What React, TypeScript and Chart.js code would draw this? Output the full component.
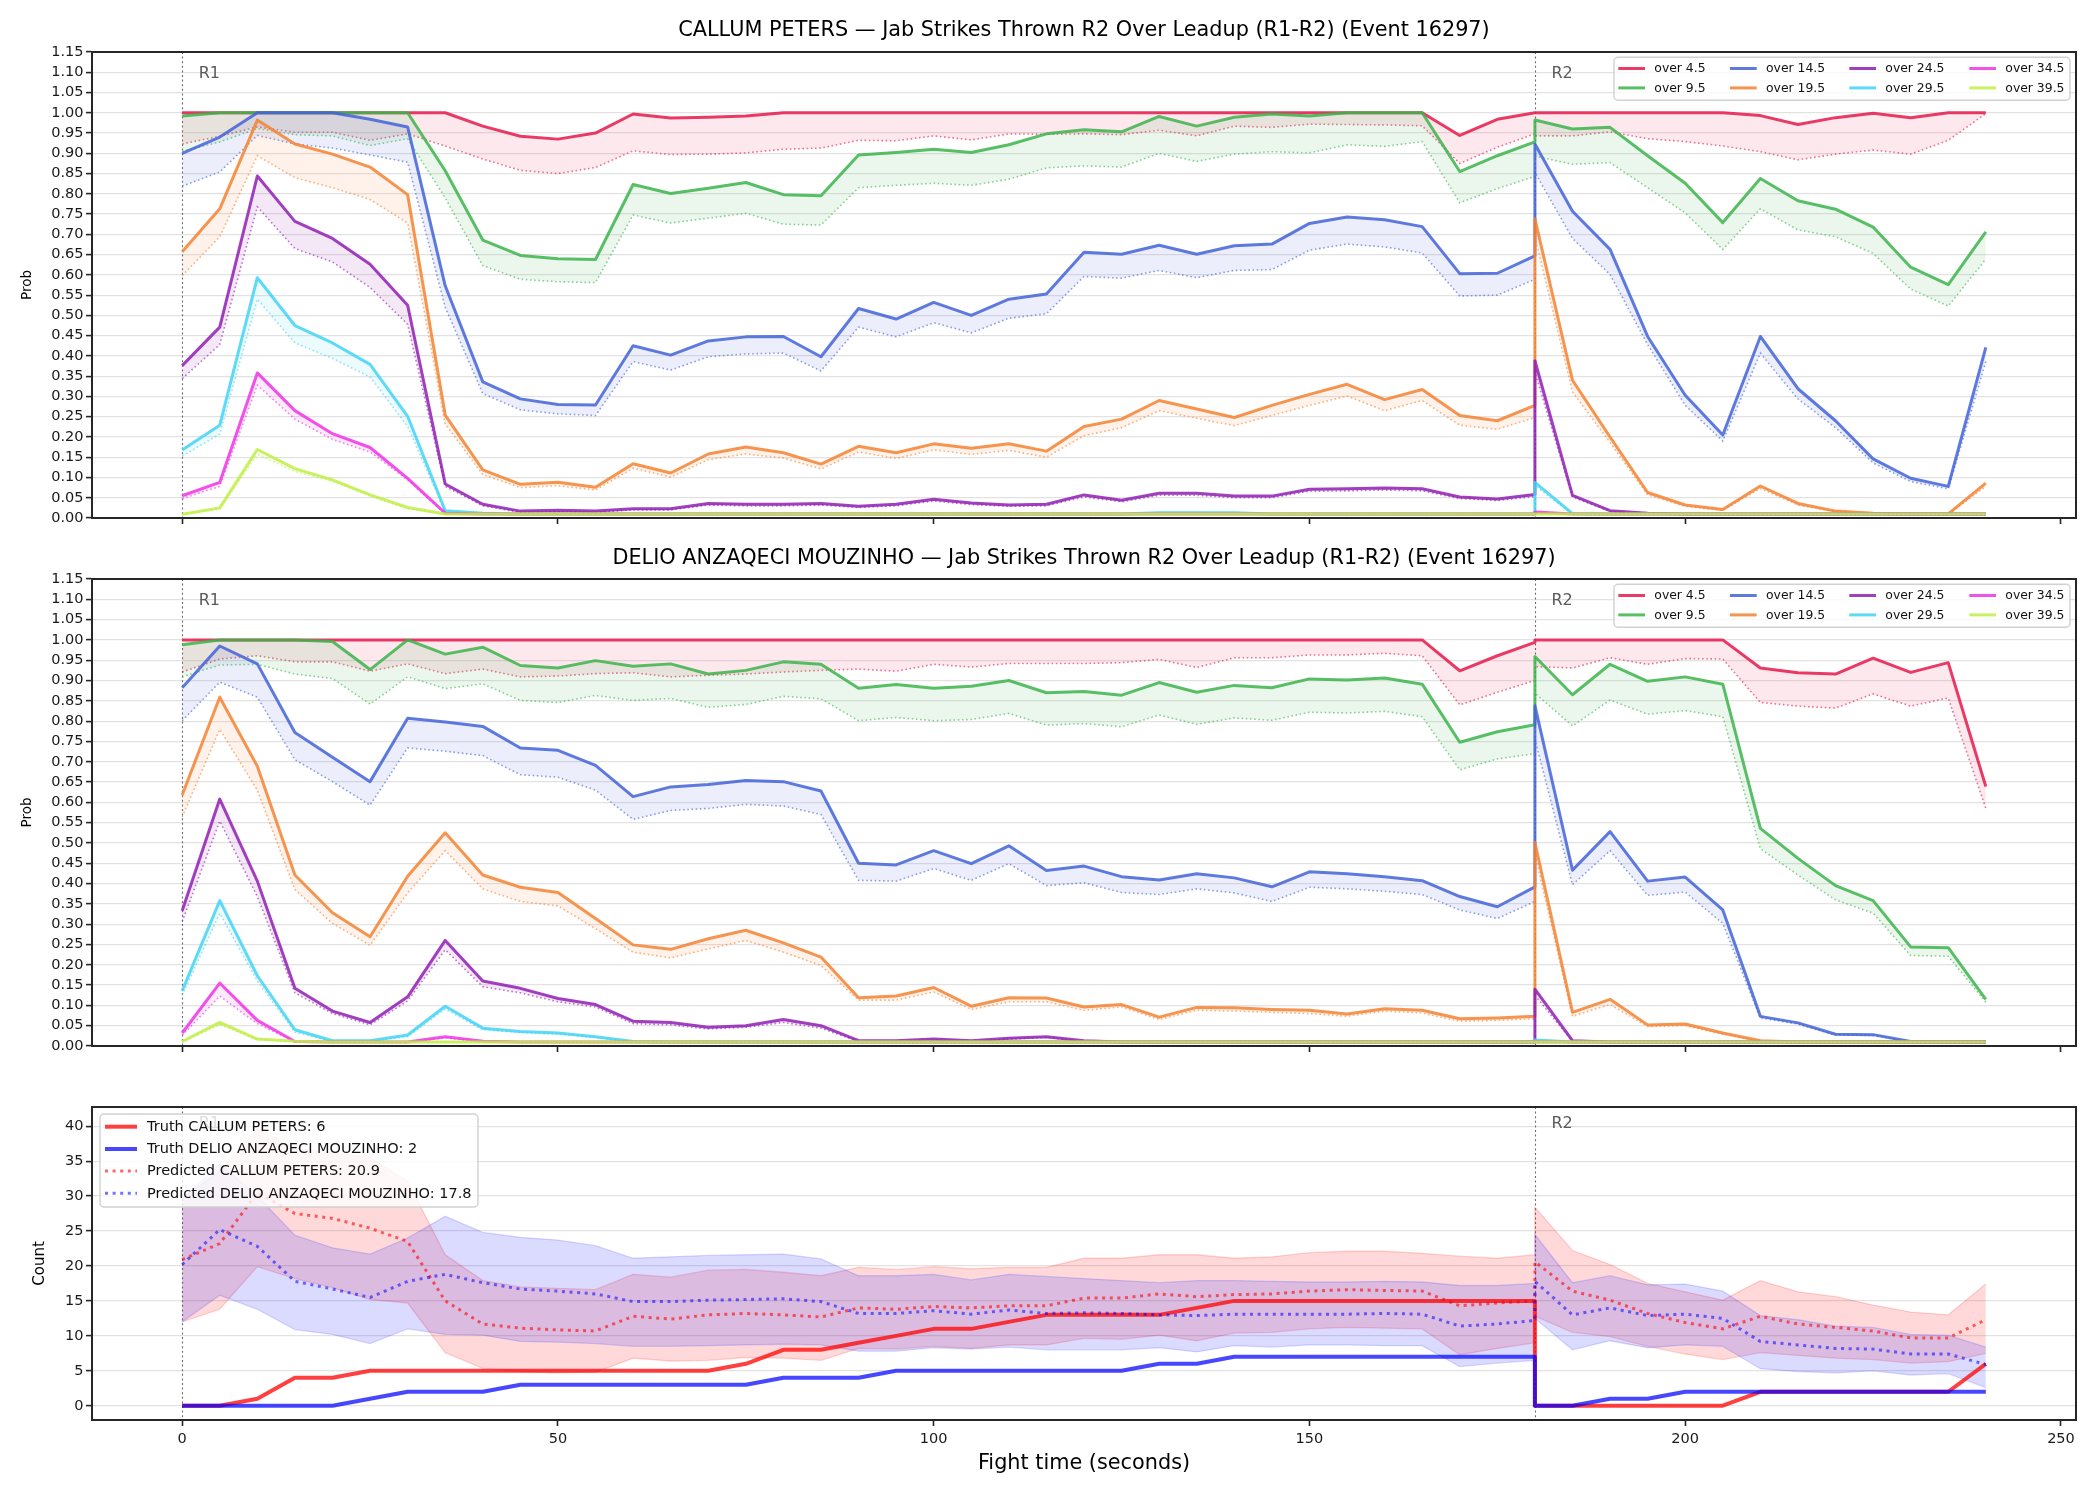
import React, { useEffect, useRef } from 'react';
import { Chart, registerables } from 'chart.js';

Chart.register(...registerables);

const FAMILY = '"DejaVu Sans", Verdana, sans-serif';

// ---------------- shared axis data ----------------
// R1 samples (0..180) followed by R2 samples (180..240)
const TIMES = [
  0, 5, 10, 15, 20, 25, 30, 35, 40, 45,
  50, 55, 60, 65, 70, 75, 80, 85, 90, 95,
  100, 105, 110, 115, 120, 125, 130, 135, 140, 145,
  150, 155, 160, 165, 170, 175, 180,
  180, 185, 190, 195, 200, 205, 210, 215, 220, 225, 230, 235, 240,
];
const X_TICKS = [0, 50, 100, 150, 200, 250];
const PROB_TICKS = [0, 0.05, 0.1, 0.15, 0.2, 0.25, 0.3, 0.35, 0.4, 0.45, 0.5, 0.55, 0.6, 0.65, 0.7, 0.75, 0.8, 0.85, 0.9, 0.95, 1.0, 1.05, 1.1, 1.15];
const COUNT_TICKS = [0, 5, 10, 15, 20, 25, 30, 35, 40];
const ROUND_STARTS = [0, 180];
const ROUND_LABELS = ['R1', 'R2'];

const OVER_LABELS = ['over 4.5', 'over 9.5', 'over 14.5', 'over 19.5', 'over 24.5', 'over 29.5', 'over 34.5', 'over 39.5'];
const SERIES_COLORS = ['#e6194b', '#3cb44b', '#4363d8', '#f58231', '#911eb4', '#42d4f4', '#f032e6', '#bfef45'];

const TITLE_CALLUM = 'CALLUM PETERS \u2014 Jab Strikes Thrown R2 Over Leadup (R1-R2) (Event 16297)';
const TITLE_DELIO = 'DELIO ANZAQECI MOUZINHO \u2014 Jab Strikes Thrown R2 Over Leadup (R1-R2) (Event 16297)';
const COUNT_LEGEND = ['Truth CALLUM PETERS: 6', 'Truth DELIO ANZAQECI MOUZINHO: 2', 'Predicted CALLUM PETERS: 20.9', 'Predicted DELIO ANZAQECI MOUZINHO: 17.8'];

// ---------------- CALLUM PETERS probabilities ----------------
const CALLUM_O4_P = [
  1, 1, 1, 1, 1, 1, 1, 1, 0.967, 0.942,
  0.935, 0.95, 0.997, 0.987, 0.989, 0.992, 1, 1, 1, 1,
  1, 1, 1, 1, 1, 1, 1, 1, 1, 1,
  1, 1, 1, 1, 0.944, 0.984, 1,
  1, 1, 1, 1, 1, 1, 0.993, 0.971, 0.988, 0.999, 0.988, 1, 1];
const CALLUM_O4_LO = [
  0.923, 0.942, 0.965, 0.952, 0.952, 0.932, 0.948, 0.918, 0.886, 0.858,
  0.85, 0.865, 0.906, 0.897, 0.898, 0.901, 0.91, 0.913, 0.932, 0.931,
  0.943, 0.933, 0.948, 0.947, 0.948, 0.946, 0.957, 0.943, 0.967, 0.964,
  0.972, 0.971, 0.97, 0.968, 0.875, 0.915, 0.948,
  0.943, 0.943, 0.953, 0.936, 0.929, 0.918, 0.904, 0.884, 0.898, 0.908, 0.898, 0.932, 0.998];
const CALLUM_O9_P = [
  0.992, 1, 1, 1, 1, 1, 1, 0.857, 0.686, 0.648,
  0.64, 0.638, 0.823, 0.801, 0.814, 0.828, 0.798, 0.795, 0.896, 0.902,
  0.91, 0.902, 0.921, 0.948, 0.958, 0.953, 0.991, 0.967, 0.989, 0.997,
  0.992, 1, 1, 1, 0.855, 0.894, 0.928,
  0.982, 0.96, 0.964, 0.894, 0.826, 0.729, 0.838, 0.783, 0.762, 0.718, 0.619, 0.576, 0.706];
const CALLUM_O9_LO = [
  0.905, 0.928, 0.961, 0.946, 0.943, 0.919, 0.936, 0.79, 0.623, 0.589,
  0.583, 0.581, 0.748, 0.728, 0.74, 0.752, 0.725, 0.723, 0.815, 0.821,
  0.826, 0.821, 0.836, 0.864, 0.869, 0.866, 0.9, 0.88, 0.898, 0.904,
  0.901, 0.921, 0.917, 0.929, 0.778, 0.813, 0.843,
  0.893, 0.873, 0.877, 0.815, 0.753, 0.663, 0.763, 0.711, 0.694, 0.653, 0.565, 0.523, 0.639];
const CALLUM_O14_P = [
  0.9, 0.94, 1, 1, 1, 0.984, 0.965, 0.573, 0.336, 0.294,
  0.28, 0.279, 0.425, 0.402, 0.437, 0.447, 0.448, 0.398, 0.517, 0.491,
  0.532, 0.5, 0.54, 0.553, 0.656, 0.651, 0.673, 0.651, 0.672, 0.676,
  0.727, 0.743, 0.736, 0.719, 0.603, 0.604, 0.647,
  0.923, 0.757, 0.663, 0.448, 0.303, 0.205, 0.448, 0.319, 0.24, 0.146, 0.098, 0.078, 0.421];
const CALLUM_O14_LO = [
  0.819, 0.854, 0.944, 0.923, 0.913, 0.896, 0.878, 0.52, 0.307, 0.267,
  0.257, 0.253, 0.386, 0.365, 0.398, 0.405, 0.407, 0.363, 0.471, 0.447,
  0.482, 0.457, 0.493, 0.504, 0.596, 0.592, 0.611, 0.593, 0.611, 0.613,
  0.661, 0.676, 0.669, 0.654, 0.548, 0.55, 0.589,
  0.853, 0.69, 0.601, 0.428, 0.278, 0.19, 0.407, 0.294, 0.223, 0.136, 0.09, 0.072, 0.386];
const CALLUM_O19_P = [
  0.657, 0.763, 0.982, 0.923, 0.898, 0.866, 0.798, 0.254, 0.119, 0.083,
  0.088, 0.076, 0.134, 0.111, 0.158, 0.175, 0.161, 0.133, 0.177, 0.161,
  0.183, 0.172, 0.183, 0.165, 0.226, 0.244, 0.29, 0.269, 0.248, 0.278,
  0.305, 0.33, 0.292, 0.317, 0.253, 0.24, 0.278,
  0.738, 0.34, 0.2, 0.063, 0.032, 0.021, 0.079, 0.036, 0.017, 0.012, 0.01, 0.01, 0.086];
const CALLUM_O19_LO = [
  0.598, 0.694, 0.894, 0.84, 0.815, 0.786, 0.728, 0.232, 0.107, 0.075,
  0.08, 0.069, 0.123, 0.101, 0.144, 0.158, 0.148, 0.121, 0.163, 0.147,
  0.168, 0.157, 0.167, 0.15, 0.203, 0.223, 0.265, 0.246, 0.228, 0.253,
  0.278, 0.301, 0.265, 0.29, 0.229, 0.219, 0.248,
  0.694, 0.311, 0.186, 0.057, 0.029, 0.019, 0.073, 0.032, 0.016, 0.011, 0.009, 0.009, 0.078];
const CALLUM_O24_P = [
  0.376, 0.471, 0.844, 0.732, 0.69, 0.626, 0.525, 0.084, 0.034, 0.017,
  0.019, 0.017, 0.023, 0.023, 0.036, 0.034, 0.034, 0.036, 0.029, 0.034,
  0.046, 0.037, 0.032, 0.034, 0.057, 0.044, 0.061, 0.061, 0.054, 0.054,
  0.071, 0.072, 0.074, 0.072, 0.052, 0.047, 0.058,
  0.388, 0.056, 0.018, 0.012, 0.01, 0.01, 0.01, 0.01, 0.01, 0.01, 0.01, 0.01, 0.01];
const CALLUM_O24_LO = [
  0.344, 0.428, 0.768, 0.665, 0.632, 0.569, 0.478, 0.078, 0.03, 0.014,
  0.016, 0.014, 0.02, 0.02, 0.032, 0.03, 0.03, 0.032, 0.026, 0.03,
  0.042, 0.033, 0.029, 0.03, 0.052, 0.04, 0.056, 0.056, 0.05, 0.05,
  0.066, 0.067, 0.069, 0.067, 0.048, 0.043, 0.053,
  0.36, 0.052, 0.016, 0.011, 0.009, 0.009, 0.009, 0.009, 0.009, 0.009, 0.009, 0.009, 0.009];
const CALLUM_O29_P = [
  0.168, 0.229, 0.593, 0.475, 0.432, 0.379, 0.251, 0.018, 0.012, 0.01,
  0.01, 0.01, 0.01, 0.01, 0.01, 0.01, 0.01, 0.01, 0.01, 0.01,
  0.01, 0.01, 0.01, 0.01, 0.01, 0.01, 0.013, 0.013, 0.013, 0.01,
  0.01, 0.01, 0.01, 0.01, 0.01, 0.01, 0.01,
  0.088, 0.011, 0.01, 0.01, 0.01, 0.01, 0.01, 0.01, 0.01, 0.01, 0.01, 0.01, 0.01];
const CALLUM_O29_LO = [
  0.153, 0.207, 0.54, 0.432, 0.394, 0.348, 0.226, 0.015, 0.01, 0.009,
  0.009, 0.009, 0.009, 0.009, 0.009, 0.009, 0.009, 0.009, 0.009, 0.009,
  0.009, 0.009, 0.009, 0.009, 0.009, 0.009, 0.011, 0.011, 0.011, 0.009,
  0.009, 0.009, 0.009, 0.009, 0.009, 0.009, 0.009,
  0.08, 0.009, 0.009, 0.009, 0.009, 0.009, 0.009, 0.009, 0.009, 0.009, 0.009, 0.009, 0.009];
const CALLUM_O34_P = [
  0.055, 0.088, 0.358, 0.265, 0.208, 0.174, 0.098, 0.012, 0.01, 0.01,
  0.01, 0.01, 0.01, 0.01, 0.01, 0.01, 0.01, 0.01, 0.01, 0.01,
  0.01, 0.01, 0.01, 0.01, 0.01, 0.01, 0.01, 0.01, 0.01, 0.01,
  0.01, 0.01, 0.01, 0.01, 0.01, 0.01, 0.01,
  0.015, 0.01, 0.01, 0.01, 0.01, 0.01, 0.01, 0.01, 0.01, 0.01, 0.01, 0.01, 0.01];
const CALLUM_O34_LO = [
  0.048, 0.078, 0.328, 0.244, 0.194, 0.163, 0.094, 0.01, 0.009, 0.009,
  0.009, 0.009, 0.009, 0.009, 0.009, 0.009, 0.009, 0.009, 0.009, 0.009,
  0.009, 0.009, 0.009, 0.009, 0.009, 0.009, 0.009, 0.009, 0.009, 0.009,
  0.009, 0.009, 0.009, 0.009, 0.009, 0.009, 0.009,
  0.013, 0.009, 0.009, 0.009, 0.009, 0.009, 0.009, 0.009, 0.009, 0.009, 0.009, 0.009, 0.009];
const CALLUM_O39_P = [
  0.009, 0.025, 0.169, 0.122, 0.094, 0.057, 0.026, 0.01, 0.01, 0.01,
  0.01, 0.01, 0.01, 0.01, 0.01, 0.01, 0.01, 0.01, 0.01, 0.01,
  0.01, 0.01, 0.01, 0.01, 0.01, 0.01, 0.01, 0.01, 0.01, 0.01,
  0.01, 0.01, 0.01, 0.01, 0.01, 0.01, 0.01,
  0.01, 0.01, 0.01, 0.01, 0.01, 0.01, 0.01, 0.01, 0.01, 0.01, 0.01, 0.01, 0.01];
const CALLUM_O39_LO = [
  0.008, 0.022, 0.157, 0.115, 0.09, 0.054, 0.023, 0.009, 0.009, 0.009,
  0.009, 0.009, 0.009, 0.009, 0.009, 0.009, 0.009, 0.009, 0.009, 0.009,
  0.009, 0.009, 0.009, 0.009, 0.009, 0.009, 0.009, 0.009, 0.009, 0.009,
  0.009, 0.009, 0.009, 0.009, 0.009, 0.009, 0.009,
  0.009, 0.009, 0.009, 0.009, 0.009, 0.009, 0.009, 0.009, 0.009, 0.009, 0.009, 0.009, 0.009];

// ---------------- DELIO ANZAQECI MOUZINHO probabilities ----------------
const DELIO_O4_P = [
  1, 1, 1, 1, 1, 1, 1, 1, 1, 1,
  1, 1, 1, 1, 1, 1, 1, 1, 1, 1,
  1, 1, 1, 1, 1, 1, 1, 1, 1, 1,
  1, 1, 1, 1, 0.924, 0.961, 0.994,
  1, 1, 1, 1, 1, 1, 0.931, 0.919, 0.916, 0.955, 0.92, 0.944, 0.639];
const DELIO_O4_LO = [
  0.921, 0.953, 0.961, 0.946, 0.946, 0.923, 0.941, 0.917, 0.928, 0.909,
  0.911, 0.917, 0.919, 0.909, 0.913, 0.916, 0.921, 0.925, 0.928, 0.923,
  0.94, 0.933, 0.942, 0.942, 0.942, 0.944, 0.952, 0.932, 0.956, 0.956,
  0.963, 0.963, 0.967, 0.961, 0.84, 0.871, 0.9,
  0.934, 0.931, 0.956, 0.94, 0.954, 0.953, 0.846, 0.837, 0.832, 0.867, 0.837, 0.857, 0.585];
const DELIO_O9_P = [
  0.988, 1, 1, 1, 0.996, 0.927, 1, 0.965, 0.982, 0.937,
  0.931, 0.949, 0.935, 0.941, 0.916, 0.925, 0.946, 0.94, 0.881, 0.89,
  0.881, 0.886, 0.9, 0.87, 0.873, 0.864, 0.895, 0.871, 0.888, 0.882,
  0.904, 0.901, 0.906, 0.891, 0.748, 0.774, 0.791,
  0.959, 0.865, 0.94, 0.898, 0.909, 0.891, 0.536, 0.462, 0.395, 0.358, 0.244, 0.242, 0.115];
const DELIO_O9_LO = [
  0.909, 0.938, 0.94, 0.916, 0.905, 0.842, 0.909, 0.88, 0.892, 0.851,
  0.846, 0.863, 0.851, 0.856, 0.834, 0.841, 0.861, 0.855, 0.801, 0.809,
  0.801, 0.804, 0.819, 0.79, 0.794, 0.786, 0.815, 0.792, 0.808, 0.802,
  0.822, 0.82, 0.824, 0.811, 0.68, 0.707, 0.72,
  0.869, 0.788, 0.852, 0.817, 0.826, 0.811, 0.486, 0.421, 0.36, 0.327, 0.223, 0.221, 0.108];
const DELIO_O14_P = [
  0.882, 0.985, 0.941, 0.772, 0.711, 0.651, 0.807, 0.798, 0.787, 0.734,
  0.728, 0.691, 0.614, 0.638, 0.644, 0.654, 0.651, 0.628, 0.45, 0.446,
  0.481, 0.449, 0.493, 0.432, 0.443, 0.417, 0.409, 0.424, 0.414, 0.392,
  0.429, 0.424, 0.417, 0.407, 0.368, 0.343, 0.392,
  0.838, 0.433, 0.528, 0.406, 0.416, 0.335, 0.073, 0.057, 0.029, 0.028, 0.011, 0.01, 0.01];
const DELIO_O14_LO = [
  0.801, 0.896, 0.859, 0.705, 0.651, 0.593, 0.734, 0.726, 0.715, 0.668,
  0.662, 0.63, 0.558, 0.58, 0.585, 0.595, 0.591, 0.57, 0.408, 0.406,
  0.437, 0.408, 0.449, 0.395, 0.402, 0.378, 0.373, 0.387, 0.377, 0.356,
  0.391, 0.387, 0.381, 0.373, 0.335, 0.314, 0.356,
  0.755, 0.397, 0.481, 0.371, 0.379, 0.302, 0.069, 0.054, 0.027, 0.026, 0.01, 0.009, 0.009];
const DELIO_O19_P = [
  0.618, 0.859, 0.689, 0.421, 0.328, 0.269, 0.418, 0.525, 0.421, 0.391,
  0.378, 0.314, 0.249, 0.238, 0.264, 0.285, 0.254, 0.219, 0.119, 0.123,
  0.144, 0.098, 0.119, 0.118, 0.096, 0.102, 0.071, 0.095, 0.094, 0.09,
  0.088, 0.079, 0.092, 0.088, 0.067, 0.069, 0.073,
  0.501, 0.083, 0.115, 0.052, 0.054, 0.032, 0.013, 0.01, 0.01, 0.01, 0.01, 0.01, 0.01];
const DELIO_O19_LO = [
  0.564, 0.78, 0.63, 0.385, 0.302, 0.248, 0.377, 0.481, 0.387, 0.356,
  0.345, 0.289, 0.231, 0.217, 0.239, 0.26, 0.231, 0.198, 0.113, 0.113,
  0.133, 0.09, 0.109, 0.109, 0.088, 0.096, 0.065, 0.088, 0.086, 0.083,
  0.08, 0.073, 0.086, 0.081, 0.061, 0.063, 0.067,
  0.472, 0.073, 0.102, 0.048, 0.05, 0.029, 0.012, 0.009, 0.009, 0.009, 0.009, 0.009, 0.009];
const DELIO_O24_P = [
  0.333, 0.608, 0.406, 0.142, 0.086, 0.058, 0.121, 0.26, 0.16, 0.142,
  0.117, 0.102, 0.061, 0.058, 0.046, 0.05, 0.065, 0.05, 0.013, 0.013,
  0.017, 0.013, 0.019, 0.023, 0.013, 0.01, 0.01, 0.01, 0.01, 0.01,
  0.01, 0.01, 0.01, 0.01, 0.01, 0.01, 0.01,
  0.14, 0.013, 0.01, 0.01, 0.01, 0.01, 0.01, 0.01, 0.01, 0.01, 0.01, 0.01, 0.01];
const DELIO_O24_LO = [
  0.306, 0.554, 0.368, 0.131, 0.08, 0.052, 0.111, 0.237, 0.146, 0.131,
  0.109, 0.096, 0.055, 0.052, 0.042, 0.046, 0.058, 0.044, 0.011, 0.011,
  0.015, 0.011, 0.017, 0.021, 0.011, 0.009, 0.009, 0.009, 0.009, 0.009,
  0.009, 0.009, 0.009, 0.009, 0.009, 0.009, 0.009,
  0.125, 0.011, 0.009, 0.009, 0.009, 0.009, 0.009, 0.009, 0.009, 0.009, 0.009, 0.009, 0.009];
const DELIO_O29_P = [
  0.136, 0.358, 0.173, 0.04, 0.013, 0.013, 0.027, 0.098, 0.044, 0.036,
  0.032, 0.023, 0.011, 0.01, 0.01, 0.01, 0.01, 0.01, 0.01, 0.01,
  0.01, 0.01, 0.01, 0.01, 0.01, 0.01, 0.01, 0.01, 0.01, 0.01,
  0.01, 0.01, 0.01, 0.01, 0.01, 0.01, 0.01,
  0.015, 0.01, 0.01, 0.01, 0.01, 0.01, 0.01, 0.01, 0.01, 0.01, 0.01, 0.01, 0.01];
const DELIO_O29_LO = [
  0.125, 0.327, 0.16, 0.034, 0.011, 0.011, 0.023, 0.091, 0.04, 0.033,
  0.029, 0.021, 0.01, 0.009, 0.009, 0.009, 0.009, 0.009, 0.009, 0.009,
  0.009, 0.009, 0.009, 0.009, 0.009, 0.009, 0.009, 0.009, 0.009, 0.009,
  0.009, 0.009, 0.009, 0.009, 0.009, 0.009, 0.009,
  0.013, 0.009, 0.009, 0.009, 0.009, 0.009, 0.009, 0.009, 0.009, 0.009, 0.009, 0.009, 0.009];
const DELIO_O34_P = [
  0.032, 0.155, 0.063, 0.011, 0.01, 0.01, 0.01, 0.023, 0.012, 0.01,
  0.01, 0.01, 0.01, 0.01, 0.01, 0.01, 0.01, 0.01, 0.01, 0.01,
  0.01, 0.01, 0.01, 0.01, 0.01, 0.01, 0.01, 0.01, 0.01, 0.01,
  0.01, 0.01, 0.01, 0.01, 0.01, 0.01, 0.01,
  0.01, 0.01, 0.01, 0.01, 0.01, 0.01, 0.01, 0.01, 0.01, 0.01, 0.01, 0.01, 0.01];
const DELIO_O34_LO = [
  0.026, 0.123, 0.055, 0.01, 0.009, 0.009, 0.009, 0.02, 0.01, 0.009,
  0.009, 0.009, 0.009, 0.009, 0.009, 0.009, 0.009, 0.009, 0.009, 0.009,
  0.009, 0.009, 0.009, 0.009, 0.009, 0.009, 0.009, 0.009, 0.009, 0.009,
  0.009, 0.009, 0.009, 0.009, 0.009, 0.009, 0.009,
  0.009, 0.009, 0.009, 0.009, 0.009, 0.009, 0.009, 0.009, 0.009, 0.009, 0.009, 0.009, 0.009];
const DELIO_O39_P = [
  0.011, 0.058, 0.017, 0.012, 0.01, 0.01, 0.01, 0.01, 0.01, 0.01,
  0.01, 0.01, 0.01, 0.01, 0.01, 0.01, 0.01, 0.01, 0.01, 0.01,
  0.01, 0.01, 0.01, 0.01, 0.01, 0.01, 0.01, 0.01, 0.01, 0.01,
  0.01, 0.01, 0.01, 0.01, 0.01, 0.01, 0.01,
  0.01, 0.01, 0.01, 0.01, 0.01, 0.01, 0.01, 0.01, 0.01, 0.01, 0.01, 0.01, 0.01];
const DELIO_O39_LO = [
  0.009, 0.052, 0.015, 0.01, 0.009, 0.009, 0.009, 0.009, 0.009, 0.009,
  0.009, 0.009, 0.009, 0.009, 0.009, 0.009, 0.009, 0.009, 0.009, 0.009,
  0.009, 0.009, 0.009, 0.009, 0.009, 0.009, 0.009, 0.009, 0.009, 0.009,
  0.009, 0.009, 0.009, 0.009, 0.009, 0.009, 0.009,
  0.009, 0.009, 0.009, 0.009, 0.009, 0.009, 0.009, 0.009, 0.009, 0.009, 0.009, 0.009, 0.009];

// ---------------- counts ----------------
const TRUTH_CALLUM = [
  0, 0, 1, 4, 4, 5, 5, 5, 5, 5,
  5, 5, 5, 5, 5, 6, 8, 8, 9, 10,
  11, 11, 12, 13, 13, 13, 13, 14, 15, 15,
  15, 15, 15, 15, 15, 15, 15,
  0, 0, 0, 0, 0, 0, 2, 2, 2, 2, 2, 2, 6];
const TRUTH_DELIO = [
  0, 0, 0, 0, 0, 1, 2, 2, 2, 3,
  3, 3, 3, 3, 3, 3, 4, 4, 4, 5,
  5, 5, 5, 5, 5, 5, 6, 6, 7, 7,
  7, 7, 7, 7, 7, 7, 7,
  0, 0, 1, 1, 2, 2, 2, 2, 2, 2, 2, 2, 2];
const PRED_CALLUM = [
  20.9, 23.2, 30.5, 27.5, 26.8, 25.4, 23.5, 15.0, 11.7, 11.1,
  10.85, 10.7, 12.8, 12.4, 13.0, 13.2, 13.0, 12.7, 14.0, 13.8,
  14.2, 14.0, 14.3, 14.3, 15.4, 15.4, 16.0, 15.6, 15.9, 16.0,
  16.4, 16.6, 16.5, 16.4, 14.3, 14.7, 15.0,
  20.6, 16.4, 15.1, 13.2, 11.9, 11.0, 12.8, 11.7, 11.2, 10.7, 9.7, 9.7, 12.3];
const PRED_DELIO = [
  20.2, 25.2, 22.8, 17.8, 16.7, 15.5, 17.8, 18.8, 17.6, 16.7,
  16.4, 16.0, 14.9, 14.9, 15.1, 15.2, 15.3, 14.9, 13.2, 13.2,
  13.6, 13.1, 13.7, 13.2, 13.3, 13.2, 13.0, 12.9, 13.1, 13.1,
  13.1, 13.1, 13.2, 13.1, 11.4, 11.7, 12.2,
  17.8, 13.0, 14.0, 12.9, 13.1, 12.5, 9.2, 8.7, 8.2, 8.1, 7.4, 7.4, 5.9];
const CALLUM_HI = [
  29.7, 33.5, 39.6, 36.9, 36.2, 35.5, 32.1, 21.6, 17.9, 17.0,
  16.8, 16.6, 18.8, 18.4, 19.4, 19.5, 19.1, 18.6, 19.8, 19.5,
  19.9, 19.6, 19.8, 19.8, 21.1, 21.1, 21.6, 21.6, 21.1, 21.3,
  21.9, 22.1, 22.1, 21.8, 21.4, 21.1, 21.6,
  28.4, 22.2, 20.2, 17.5, 16.3, 15.1, 17.9, 16.3, 15.6, 14.4, 13.4, 13.0, 17.4];
const CALLUM_LO = [
  12.0, 13.8, 19.9, 18.2, 16.9, 15.2, 14.7, 7.6, 5.35, 4.9,
  4.7, 4.8, 6.8, 6.4, 6.5, 6.9, 6.8, 6.5, 8.2, 8.1,
  8.5, 8.2, 8.7, 8.7, 9.65, 9.5, 10.1, 9.3, 10.4, 10.5,
  11.0, 11.2, 11.1, 11.0, 7.3, 8.2, 9.0,
  12.8, 10.5, 9.9, 8.5, 7.4, 6.6, 7.6, 7.2, 6.8, 6.6, 6.1, 6.3, 7.5];
const DELIO_HI = [
  29.5, 34.6, 30.0, 24.4, 22.6, 21.7, 24.0, 27.1, 24.8, 24.1,
  23.7, 22.9, 21.1, 21.3, 21.5, 21.6, 21.7, 21.0, 18.6, 18.6,
  18.8, 18.0, 18.8, 18.5, 18.2, 17.9, 17.6, 17.9, 17.9, 17.8,
  17.7, 17.7, 17.8, 17.7, 17.2, 17.2, 17.5,
  24.5, 17.6, 18.6, 17.3, 17.4, 16.4, 12.9, 12.3, 11.4, 11.2, 10.2, 10.1, 8.4];
const DELIO_LO = [
  12.0, 15.8, 13.8, 10.9, 10.2, 8.9, 11.0, 10.2, 10.1, 9.2,
  9.1, 8.9, 8.5, 8.5, 8.6, 8.7, 8.8, 8.7, 7.8, 7.8,
  8.3, 8.1, 8.4, 8.0, 8.0, 8.0, 8.3, 7.7, 8.6, 8.4,
  8.7, 8.7, 8.6, 8.6, 5.6, 6.1, 6.5,
  12.5, 8.0, 9.3, 8.3, 8.7, 8.5, 5.3, 4.9, 4.7, 5.0, 4.4, 4.6, 2.6];

const CALLUM_P = [CALLUM_O4_P, CALLUM_O9_P, CALLUM_O14_P, CALLUM_O19_P, CALLUM_O24_P, CALLUM_O29_P, CALLUM_O34_P, CALLUM_O39_P];
const CALLUM_LOW = [CALLUM_O4_LO, CALLUM_O9_LO, CALLUM_O14_LO, CALLUM_O19_LO, CALLUM_O24_LO, CALLUM_O29_LO, CALLUM_O34_LO, CALLUM_O39_LO];
const DELIO_P = [DELIO_O4_P, DELIO_O9_P, DELIO_O14_P, DELIO_O19_P, DELIO_O24_P, DELIO_O29_P, DELIO_O34_P, DELIO_O39_P];
const DELIO_LOW = [DELIO_O4_LO, DELIO_O9_LO, DELIO_O14_LO, DELIO_O19_LO, DELIO_O24_LO, DELIO_O29_LO, DELIO_O34_LO, DELIO_O39_LO];

// ---------------- helpers ----------------
function rgba(hex: string, a: number) {
  const n = parseInt(hex.slice(1), 16);
  return `rgba(${(n >> 16) & 255},${(n >> 8) & 255},${n & 255},${a})`;
}
function xy(vals: number[]) {
  return TIMES.map((t, i) => ({ x: t, y: vals[i] }));
}

const SPINE = '#262626';
const TICK_FONT = { family: FAMILY, size: 14.5 };

function xScale(showLabels: boolean, height: number) {
  return {
    type: 'linear',
    min: -12,
    max: 252,
    afterBuildTicks: (s: any) => { s.ticks = X_TICKS.map((v) => ({ value: v })); },
    afterFit: (s: any) => { s.height = height; },
    ticks: {
      autoSkip: false, maxRotation: 0, minRotation: 0, padding: 5, color: '#1a1a1a', font: TICK_FONT,
      callback: (v: any) => (showLabels ? String(v) : ''),
    },
    grid: { display: true, drawOnChartArea: false, drawTicks: true, tickLength: 6, tickWidth: 1.6, tickColor: SPINE },
    border: { display: true, color: SPINE, width: 2 },
  };
}
function yScale(min: number, max: number, ticks: number[], fmt: (v: number) => string) {
  return {
    type: 'linear',
    min, max,
    afterBuildTicks: (s: any) => { s.ticks = ticks.map((v) => ({ value: v })); },
    afterFit: (s: any) => { s.width = 92; },
    ticks: { autoSkip: false, padding: 2.5, color: '#1a1a1a', font: TICK_FONT, callback: (v: any) => fmt(Number(v)) },
    grid: { color: '#e2e2e2', lineWidth: 1.2, drawTicks: true, tickLength: 6, tickWidth: 1.6, tickColor: SPINE },
    border: { display: true, color: SPINE, width: 2 },
  };
}

function frameBox(ctx: any, x: number, y: number, w: number, h: number) {
  ctx.beginPath();
  if (ctx.roundRect) ctx.roundRect(x, y, w, h, 4);
  else ctx.rect(x, y, w, h);
  ctx.fillStyle = 'rgba(255,255,255,0.8)';
  ctx.fill();
  ctx.strokeStyle = 'rgba(204,204,204,0.9)';
  ctx.lineWidth = 1.4;
  ctx.stroke();
}

function drawProbLegend(ctx: any, a: any) {
  const w = 456, h = 43;
  const left = a.right - 6 - w, top = a.top + 5.3;
  frameBox(ctx, left, top, w, h);
  const colX = [4.3, 116, 235.3, 355.3];
  const rowY = [11.2, 30.6];
  ctx.font = `12.4px ${FAMILY}`;
  ctx.textBaseline = 'middle';
  ctx.textAlign = 'left';
  OVER_LABELS.forEach((lab, i) => {
    const c = Math.floor(i / 2), r = i % 2;
    const x = left + colX[c], y = top + rowY[r];
    ctx.strokeStyle = rgba(SERIES_COLORS[i], 0.85);
    ctx.lineWidth = 3;
    ctx.setLineDash([]);
    ctx.beginPath(); ctx.moveTo(x, y); ctx.lineTo(x + 26.7, y); ctx.stroke();
    ctx.fillStyle = '#111';
    ctx.fillText(lab, x + 36, y + 0.5);
  });
}

function drawCountLegend(ctx: any, a: any) {
  const left = a.left + 8, top = a.top + 7, w = 378, h = 93;
  frameBox(ctx, left, top, w, h);
  const rowY = [12.7, 35, 57, 79.3];
  const styles = [
    { color: 'rgba(255,0,0,0.75)', width: 4, dash: [] as number[] },
    { color: 'rgba(0,0,255,0.72)', width: 4, dash: [] as number[] },
    { color: 'rgba(255,0,0,0.6)', width: 3, dash: [3, 4.6] },
    { color: 'rgba(0,0,255,0.55)', width: 3, dash: [3, 4.6] },
  ];
  ctx.font = `14.5px ${FAMILY}`;
  ctx.textBaseline = 'middle';
  ctx.textAlign = 'left';
  COUNT_LEGEND.forEach((lab, i) => {
    const y = top + rowY[i];
    const s = styles[i];
    ctx.strokeStyle = s.color; ctx.lineWidth = s.width; ctx.setLineDash(s.dash);
    ctx.beginPath(); ctx.moveTo(left + 5, y); ctx.lineTo(left + 37, y); ctx.stroke();
    ctx.setLineDash([]);
    ctx.fillStyle = '#111';
    ctx.fillText(lab, left + 47, y + 0.5);
  });
}

function makeDecor(cfg: any) {
  return {
    id: 'decor',
    beforeDatasetsDraw(chart: any) {
      const { ctx, chartArea: a, scales } = chart;
      ctx.save();
      ctx.strokeStyle = 'rgba(80,80,80,0.85)';
      ctx.lineWidth = 1.1;
      ctx.setLineDash([2, 2.6]);
      ROUND_STARTS.forEach((r) => {
        const px = Math.round(scales.x.getPixelForValue(r)) + 0.5;
        ctx.beginPath(); ctx.moveTo(px, a.top); ctx.lineTo(px, a.bottom); ctx.stroke();
      });
      ctx.restore();
    },
    afterDraw(chart: any) {
      const { ctx, chartArea: a, scales } = chart;
      ctx.save();
      ctx.setLineDash([]);
      // round labels
      ctx.font = `16px ${FAMILY}`;
      ctx.fillStyle = '#5a5a5a';
      ctx.textAlign = 'left';
      ctx.textBaseline = 'middle';
      ROUND_STARTS.forEach((r, i) => {
        ctx.fillText(ROUND_LABELS[i], scales.x.getPixelForValue(r) + 16.5, a.top + cfg.roundDy);
      });
      // legend
      if (cfg.legend === 'prob') drawProbLegend(ctx, a);
      else drawCountLegend(ctx, a);
      // spines
      ctx.setLineDash([]);
      ctx.strokeStyle = SPINE;
      ctx.lineWidth = 2;
      ctx.strokeRect(a.left, a.top, a.right - a.left, a.bottom - a.top);
      // title
      ctx.fillStyle = '#000';
      ctx.textAlign = 'center';
      ctx.textBaseline = 'middle';
      if (cfg.title) {
        ctx.font = `20.8px ${FAMILY}`;
        ctx.fillText(cfg.title, (a.left + a.right) / 2, cfg.titleY);
      }
      if (cfg.xlabel) {
        ctx.font = `20.8px ${FAMILY}`;
        ctx.fillText(cfg.xlabel, (a.left + a.right) / 2, cfg.xlabelY);
      }
      // y label
      ctx.save();
      ctx.translate(cfg.ylabelX, (a.top + a.bottom) / 2);
      ctx.rotate(-Math.PI / 2);
      ctx.font = `${cfg.ylabelSize}px ${FAMILY}`;
      ctx.fillText(cfg.ylabel, 0, 0);
      ctx.restore();
      ctx.restore();
    },
  };
}

function probConfig(p: number[][], lo: number[][], canvasH: number, plotTop: number, plotBottom: number, title: string, titleY: number) {
  const datasets: any[] = [];
  p.forEach((vals, i) => {
    datasets.push({
      label: OVER_LABELS[i], data: xy(vals),
      borderColor: rgba(SERIES_COLORS[i], 0.85), backgroundColor: rgba(SERIES_COLORS[i], 0.1),
      borderWidth: 3, fill: '+1', order: 100 - 2 * i, pointRadius: 0, tension: 0,
      borderJoinStyle: 'round', borderCapStyle: 'butt',
    });
    datasets.push({
      label: OVER_LABELS[i] + ' (low)', data: xy(lo[i]),
      borderColor: rgba(SERIES_COLORS[i], 0.6), backgroundColor: 'transparent',
      borderWidth: 1.6, borderDash: [1.6, 2.6], fill: false, order: 99 - 2 * i, pointRadius: 0, tension: 0,
    });
  });
  return {
    type: 'line',
    data: { datasets },
    options: {
      animation: false, responsive: false, devicePixelRatio: 1, events: [],
      layout: { autoPadding: false, padding: { left: 0, right: 24, top: plotTop, bottom: 0 } },
      plugins: { legend: { display: false }, tooltip: { enabled: false }, title: { display: false } },
      scales: {
        x: xScale(false, canvasH - plotBottom),
        y: yScale(0, 1.15, PROB_TICKS, (v) => v.toFixed(2)),
      },
    },
    plugins: [makeDecor({ legend: 'prob', roundDy: 22, title, titleY, ylabel: 'Prob', ylabelX: 27, ylabelSize: 13.5 })],
  };
}

function countConfig(canvasH: number, plotTop: number, plotBottom: number) {
  const band = (vals: number[], color: string, fill: any, order: number, bg: string) => ({
    data: xy(vals), borderColor: color, backgroundColor: bg, borderWidth: 1.3, fill, order, pointRadius: 0, tension: 0,
  });
  const datasets: any[] = [
    { label: 'band C hi', ...band(CALLUM_HI, 'rgba(255,0,0,0.17)', '+1', 20, 'rgba(255,0,0,0.15)') },
    { label: 'band C lo', ...band(CALLUM_LO, 'rgba(255,0,0,0.17)', false, 19, 'transparent') },
    { label: 'band D hi', ...band(DELIO_HI, 'rgba(0,0,255,0.15)', '+1', 18, 'rgba(0,0,255,0.14)') },
    { label: 'band D lo', ...band(DELIO_LO, 'rgba(0,0,255,0.15)', false, 17, 'transparent') },
    { label: COUNT_LEGEND[0], data: xy(TRUTH_CALLUM), borderColor: 'rgba(255,0,0,0.75)', borderWidth: 4, fill: false, order: 16, pointRadius: 0, tension: 0, borderJoinStyle: 'round' },
    { label: COUNT_LEGEND[1], data: xy(TRUTH_DELIO), borderColor: 'rgba(0,0,255,0.72)', borderWidth: 4, fill: false, order: 15, pointRadius: 0, tension: 0, borderJoinStyle: 'round' },
    { label: COUNT_LEGEND[2], data: xy(PRED_CALLUM), borderColor: 'rgba(255,0,0,0.6)', borderWidth: 3, borderDash: [3, 4.6], fill: false, order: 14, pointRadius: 0, tension: 0 },
    { label: COUNT_LEGEND[3], data: xy(PRED_DELIO), borderColor: 'rgba(0,0,255,0.55)', borderWidth: 3, borderDash: [3, 4.6], fill: false, order: 13, pointRadius: 0, tension: 0 },
  ];
  return {
    type: 'line',
    data: { datasets },
    options: {
      animation: false, responsive: false, devicePixelRatio: 1, events: [],
      layout: { autoPadding: false, padding: { left: 0, right: 24, top: plotTop, bottom: 0 } },
      plugins: { legend: { display: false }, tooltip: { enabled: false }, title: { display: false } },
      scales: {
        x: xScale(true, canvasH - plotBottom),
        y: yScale(-2.04, 42.74, COUNT_TICKS, (v) => String(Math.round(v))),
      },
    },
    plugins: [makeDecor({ legend: 'count', roundDy: 16.5, ylabel: 'Count', ylabelX: 40, ylabelSize: 15, xlabel: 'Fight time (seconds)', xlabelY: 394 })],
  };
}

export default function App() {
  const c1 = useRef<HTMLCanvasElement>(null);
  const c2 = useRef<HTMLCanvasElement>(null);
  const c3 = useRef<HTMLCanvasElement>(null);

  useEffect(() => {
    document.body.style.margin = '0';
    const charts: any[] = [];
    if (c1.current) charts.push(new Chart(c1.current, probConfig(CALLUM_P, CALLUM_LOW, 540, 52, 518, TITLE_CALLUM, 31) as any));
    if (c2.current) charts.push(new Chart(c2.current, probConfig(DELIO_P, DELIO_LOW, 530, 39, 506, TITLE_DELIO, 18.5) as any));
    if (c3.current) charts.push(new Chart(c3.current, countConfig(430, 37, 350) as any));
    return () => { charts.forEach((c) => c.destroy()); };
  }, []);

  const cs = (top: number, h: number): React.CSSProperties => ({ position: 'absolute', left: 0, top, width: 2100, height: h, display: 'block' });
  return (
    <div style={{ position: 'absolute', left: 0, top: 0, width: 2100, height: 1500, background: '#ffffff', overflow: 'hidden' }}>
      <canvas ref={c1} width={2100} height={540} style={cs(0, 540)} />
      <canvas ref={c2} width={2100} height={530} style={cs(540, 530)} />
      <canvas ref={c3} width={2100} height={430} style={cs(1070, 430)} />
    </div>
  );
}
